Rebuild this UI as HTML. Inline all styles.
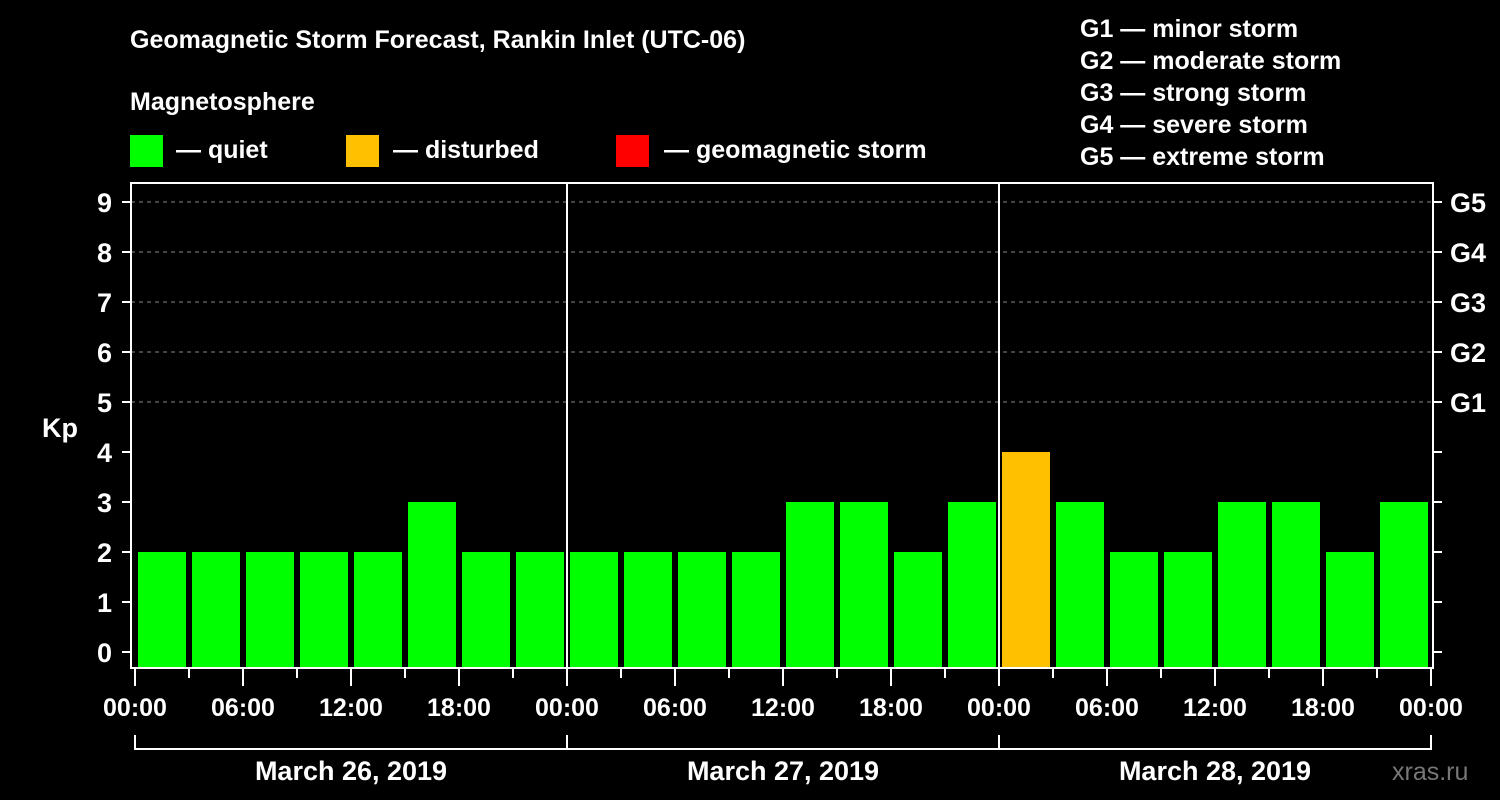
<!DOCTYPE html>
<html><head><meta charset="utf-8"><style>
html,body{margin:0;padding:0;background:#000;}
svg{display:block;font-family:"Liberation Sans",sans-serif;font-weight:bold;}
</style></head><body>
<svg id="chart" width="1500" height="800" viewBox="0 0 1500 800">
<rect width="1500" height="800" fill="#000"/>
<text x="130" y="48" fill="#fff" font-size="25">Geomagnetic Storm Forecast, Rankin Inlet (UTC-06)</text>
<text x="130" y="110" fill="#fff" font-size="25">Magnetosphere</text>
<g><rect x="130" y="135" width="33" height="32" fill="#00ff00"/><text x="176" y="158" fill="#fff" font-size="25">— quiet</text></g>
<g><rect x="346" y="135" width="33" height="32" fill="#ffc000"/><text x="393" y="158" fill="#fff" font-size="25">— disturbed</text></g>
<g><rect x="616" y="135" width="33" height="32" fill="#ff0000"/><text x="664" y="158" fill="#fff" font-size="25">— geomagnetic storm</text></g>
<g fill="#fff" font-size="25">
<text x="1080" y="37">G1 — minor storm</text>
<text x="1080" y="69">G2 — moderate storm</text>
<text x="1080" y="101">G3 — strong storm</text>
<text x="1080" y="133">G4 — severe storm</text>
<text x="1080" y="165">G5 — extreme storm</text>
</g>
<text x="42" y="437" fill="#fff" font-size="27">Kp</text>
<text x="1392" y="780" fill="#777" font-size="25" font-weight="normal">xras.ru</text>
<g id="grid"></g><g id="bars"></g><g id="axes"></g>
</svg>
<script>
const days = ["March 26, 2019","March 27, 2019","March 28, 2019"];
const hourLabels = ["00:00","06:00","12:00","18:00"];
const kpValues = [2,2,2,2,2,3,2,2, 2,2,2,2,3,3,2,3, 4,3,2,2,3,3,2,3];
const yTicks = [0,1,2,3,4,5,6,7,8,9];
const gLabels = ["G1","G2","G3","G4","G5"];
const NS="http://www.w3.org/2000/svg";
const x0=135, dayW=432, slotW=dayW/8;
const X = i => x0 + i*slotW;
const Y = v => 652 - v*50;
function mk(tag, attrs, parent, txt){const e=document.createElementNS(NS,tag);for(const k in attrs)e.setAttribute(k,attrs[k]);if(txt!==undefined)e.textContent=txt;parent.appendChild(e);return e;}
const grid=document.getElementById('grid'), bars=document.getElementById('bars'), axes=document.getElementById('axes');
yTicks.forEach(v=>{
  if(v>=5){const l=mk('line',{x1:131,x2:1433,y1:Y(v),y2:Y(v),stroke:'#888','stroke-dasharray':'4,4','stroke-width':1},grid);
  
  }
  const t=mk('line',{x1:122,x2:131,y1:Y(v),y2:Y(v),stroke:'#fff','stroke-width':2},axes);
  
  
  const tl=mk('text',{x:112,y:Y(v)+10,fill:'#fff','font-size':27,'text-anchor':'end'},axes,String(v));
  
  
  const rt=mk('line',{x1:1433,x2:1442,y1:Y(v),y2:Y(v),stroke:'#fff','stroke-width':2},axes);
  
  
});
gLabels.forEach((g,i)=>{
  const t=mk('text',{x:1450,y:Y(5+i)+10,fill:'#fff','font-size':27},axes,g);
  
  
});
kpValues.forEach((v,i)=>{
  const c = v>=5?'#ff0000':(v>=4?'#ffc000':'#00ff00');
  const r=mk('rect',{x:X(i)+3,y:Y(v),width:slotW-6,height:668-Y(v),fill:c},bars);
  
  
});
// frame
const fr=mk('rect',{x:131,y:183,width:1302,height:485,fill:'none',stroke:'#fff','stroke-width':2},axes);


for(let d=1;d<days.length;d++){
  const l=mk('line',{x1:X(d*8),x2:X(d*8),y1:183,y2:668,stroke:'#fff','stroke-width':2},axes);
  
  
}
for(let i=0;i<=kpValues.length;i++){
  const major=i%2===0;
  const t=mk('line',{x1:X(i),x2:X(i),y1:668,y2:major?686:678,stroke:'#fff','stroke-width':2},axes);
  
  
  if(major){
    const lab=hourLabels[(i/2)%4];
    const tl=mk('text',{x:X(i),y:716,fill:'#fff','font-size':25,'text-anchor':'middle'},axes,lab);
    
    
  }
}
days.forEach((d,k)=>{
  const a=X(k*8), b=X((k+1)*8);
  const p=mk('path',{d:`M${a},735V749H${b}`+(k===days.length-1?`V735`:''),stroke:'#fff','stroke-width':2,fill:'none'},axes);
  
  
  const t=mk('text',{x:(a+b)/2,y:780,fill:'#fff','font-size':27,'text-anchor':'middle'},axes,d);
  
  
});
</script>
</body></html>
